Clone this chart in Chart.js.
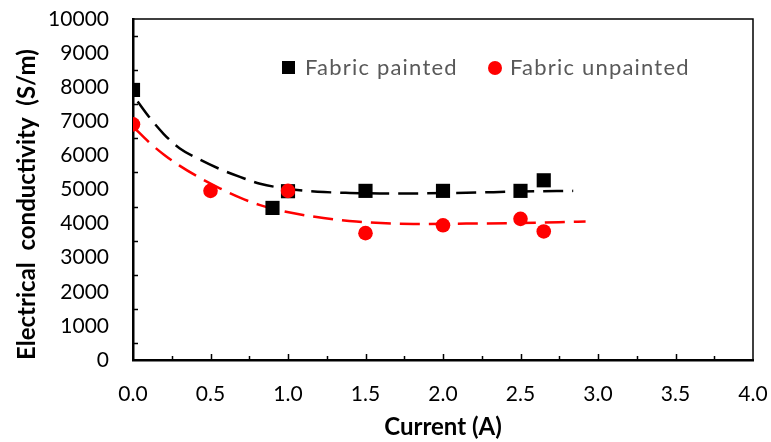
<!DOCTYPE html>
<html>
<head>
<meta charset="utf-8">
<script src="https://cdn.jsdelivr.net/npm/chart.js@4.4.1/dist/chart.umd.min.js"></script>
<style>
  body { margin: 0; background: #fff; }
</style>
</head>
<body>
<canvas id="chart" width="771" height="442"></canvas>
<script>
// measured points
const paintedX = [0, 0.9, 1.0, 1.5, 2.0, 2.5, 2.65];
const paintedY = [7920, 4460, 4950, 4960, 4960, 4960, 5270];
const unpaintedX = [0, 0.5, 1.0, 1.5, 2.0, 2.5, 2.65];
const unpaintedY = [6910, 4960, 4960, 3720, 3950, 4140, 3770];

// trend lines
const paintedFitX = [0.03, 0.1, 0.2, 0.3, 0.43, 0.56, 0.69, 0.82, 1.03, 1.19, 1.4, 1.66, 2.15, 2.5, 2.84];
const paintedFitY = [7580, 7150, 6620, 6210, 5880, 5600, 5370, 5170, 5000, 4935, 4900, 4880, 4905, 4940, 4960];
const unpaintedFitX = [0.01, 0.1, 0.2, 0.3, 0.43, 0.56, 0.69, 0.82, 0.95, 1.16, 1.44, 1.81, 2.15, 2.5, 2.92];
const unpaintedFitY = [6800, 6400, 6020, 5700, 5345, 5035, 4760, 4540, 4380, 4210, 4060, 3990, 4000, 4020, 4060];

const legendLabels = ['Fabric painted', 'Fabric unpainted'];
const FONT = 'Lato';

const toPoints = (xs, ys) => xs.map((x, i) => ({ x: x, y: ys[i] }));

// inside tick marks, thin top/right frame, legend inside the plot
const extras = {
  id: 'extras',
  afterDraw(chart) {
    const ctx = chart.ctx;
    const a = chart.chartArea;
    const xs = chart.scales.x;
    const ys = chart.scales.y;
    ctx.save();
    ctx.strokeStyle = '#000';
    ctx.lineWidth = 1.5;
    ctx.beginPath();
    ctx.moveTo(a.left, a.top);
    ctx.lineTo(a.right, a.top);
    ctx.lineTo(a.right, a.bottom);
    ctx.stroke();

    ctx.beginPath();
    for (let v = 500; v < 10000; v += 1000) {
      const py = Math.round(ys.getPixelForValue(v)) + 0.5;
      ctx.moveTo(a.left, py);
      ctx.lineTo(a.left + 5, py);
    }
    for (let v = 0.25; v < 4; v += 0.25) {
      const px = Math.round(xs.getPixelForValue(v)) + 0.5;
      const len = (Math.round(v * 4) % 2 === 0) ? 6 : 4;
      ctx.moveTo(px, a.bottom);
      ctx.lineTo(px, a.bottom - len);
    }
    ctx.stroke();

    // legend
    ctx.font = '22px ' + FONT;
    ctx.letterSpacing = '1.2px';
    ctx.textBaseline = 'middle';
    ctx.textAlign = 'left';
    ctx.fillStyle = '#000';
    ctx.fillRect(282, 61, 13, 13);
    ctx.fillStyle = '#595959';
    ctx.fillText(legendLabels[0], 305, 68);
    ctx.fillStyle = '#ff0000';
    ctx.beginPath();
    ctx.arc(495, 68, 7, 0, Math.PI * 2);
    ctx.fill();
    ctx.fillStyle = '#595959';
    ctx.fillText(legendLabels[1], 510, 68);
    ctx.restore();
  }
};

new Chart(document.getElementById('chart'), {
  type: 'scatter',
  data: {
    datasets: [
      {
        label: legendLabels[1],
        data: toPoints(unpaintedX, unpaintedY),
        pointStyle: 'circle',
        pointRadius: 7.3,
        backgroundColor: '#ff0000',
        borderColor: '#ff0000',
        borderWidth: 0,
        order: 0
      },
      {
        label: legendLabels[0],
        data: toPoints(paintedX, paintedY),
        pointStyle: 'rect',
        pointRadius: 10,
        backgroundColor: '#000',
        borderColor: '#000',
        borderWidth: 0,
        order: 1
      },
      {
        label: 'fit painted',
        data: toPoints(paintedFitX, paintedFitY),
        showLine: true,
        pointRadius: 0,
        borderColor: '#000',
        borderWidth: 2.5,
        borderDash: [20, 9],
        cubicInterpolationMode: 'monotone',
        order: 2
      },
      {
        label: 'fit unpainted',
        data: toPoints(unpaintedFitX, unpaintedFitY),
        showLine: true,
        pointRadius: 0,
        borderColor: '#ff0000',
        borderWidth: 2.5,
        borderDash: [20, 9],
        cubicInterpolationMode: 'monotone',
        order: 3
      }
    ]
  },
  options: {
    responsive: false,
    animation: false,
    layout: { padding: { top: 19, right: 0, left: 0, bottom: 0 } },
    plugins: {
      legend: { display: false },
      tooltip: { enabled: false }
    },
    scales: {
      x: {
        type: 'linear',
        min: 0,
        max: 4,
        grid: { display: false, drawTicks: false },
        border: { display: true, color: '#000', width: 2.5 },
        ticks: {
          stepSize: 0.5,
          padding: 22,
          color: '#000',
          font: { family: FONT, size: 21 },
          callback: v => v.toFixed(1)
        },
        title: {
          display: true,
          text: 'Current (A)',
          color: '#000',
          font: { family: FONT, size: 24, weight: 'bold' },
          padding: { top: 0, bottom: 0 }
        },
        afterFit: s => {
          s.height = 82;
          s.paddingLeft = 0;
          s.paddingRight = 18;
        }
      },
      y: {
        min: 0,
        max: 10000,
        grid: { display: false, drawTicks: false },
        border: { display: true, color: '#000', width: 2.5 },
        ticks: {
          stepSize: 1000,
          padding: 24,
          color: '#000',
          font: { family: FONT, size: 21 },
          callback: v => String(v)
        },
        title: {
          display: true,
          text: 'Electrical  conductivity  (S/m)',
          align: 'start',
          color: '#000',
          font: { family: FONT, size: 24, weight: 'bold' },
          padding: { top: 12.6, bottom: 0 }
        },
        afterFit: s => {
          s.width = 133;
          s.paddingTop = 0;
          s.paddingBottom = 0;
        }
      }
    }
  },
  plugins: [extras]
});
</script>
</body>
</html>
